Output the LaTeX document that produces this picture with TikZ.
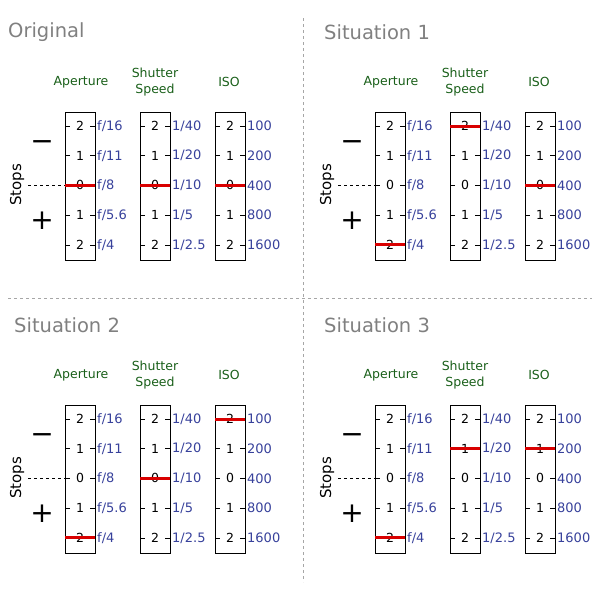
\documentclass[tikz,border=0pt]{standalone}
\usepackage{fontspec}
\setmainfont{DejaVu Sans}
\begin{document}
\definecolor{valblue}{RGB}{55,65,155}
\definecolor{hdgreen}{RGB}{25,95,25}
\definecolor{ttlgray}{RGB}{128,128,128}
\begin{tikzpicture}[x=1pt,y=-1pt,
  box/.style={draw,line width=0.8pt},
  tick/.style={line width=0.6pt},
  num/.style={font=\fontsize{12.5}{13}\selectfont,inner sep=1pt},
  val/.style={font=\fontsize{13}{14}\selectfont,text=valblue,anchor=west,inner sep=0pt},
  hdr/.style={font=\fontsize{12.5}{16}\selectfont,text=hdgreen,align=center,inner sep=0pt},
  ttl/.style={font=\fontsize{19.5}{21}\selectfont,text=ttlgray,anchor=west,inner sep=0pt},
  sel/.style={draw=red!85!black,line width=3pt},
  divider/.style={draw=gray!70,dashed,line width=0.5pt}]
\useasboundingbox (0,0) rectangle (600,600);
\draw[divider] (303,18) -- (303,582);
\draw[divider] (8,298) -- (592,298);
% \panel{dx}{dy}{title}{aprow}{shrow}{isorow}{titlex}
\newcommand{\panel}[7]{%
 \begin{scope}[shift={(#1,#2)}]
  \node[ttl] (t) at (#7,32) {#3};
  \node[hdr] (ha) at (81,82) {Aperture};
  \node[hdr] (hs) at (155,82) {Shutter\\Speed};
  \node[hdr] (hi) at (229,82) {ISO};
  \node[font=\fontsize{15}{16}\selectfont,rotate=90,inner sep=0pt] (st) at (17,185) {Stops};
  \node[font=\fontsize{28}{28}\selectfont,inner sep=0pt] (mn) at (42,146) {\textminus};
  \node[font=\fontsize{28}{28}\selectfont,inner sep=0pt] (pl) at (42,221) {+};
  \coordinate (dl) at (28,185);
  \coordinate (dr) at (65,185);
  \draw[dashed,line width=0.5pt] (dl) -- (dr);
  \foreach \bx/\r/\vals [count=\c] in {65/#4/{f/16,f/11,f/8,f/5.6,f/4},140/#5/{1/40,1/20,1/10,1/5,1/2.5},215/#6/{100,200,400,800,1600}}{
    \draw[box] (\bx,112) rectangle (\bx+30,260);
    \foreach \n [count=\i from 0] in {2,1,0,1,2}{
      \pgfmathsetmacro{\yy}{126+29.7*\i}
      \draw[tick] (\bx,\yy) -- (\bx+5,\yy);
      \draw[tick] (\bx+25,\yy) -- (\bx+30,\yy);
      \node[num] at (\bx+15,\yy) {\n};
    }
    \foreach \v [count=\i from 0] in \vals{
      \pgfmathsetmacro{\yy}{126+29.7*\i}
      \node[val] at (\bx+32,\yy) {\v};
    }
    \pgfmathsetmacro{\ys}{126+29.7*\r}
    \draw[sel] (\bx,\ys) -- (\bx+30,\ys);
  }
 \end{scope}}
\panel{0}{0}{Original}{2}{2}{2}{8}
\panel{310}{0}{Situation 1}{4}{0}{2}{14}
\panel{0}{293}{Situation 2}{4}{2}{0}{14}
\panel{310}{293}{Situation 3}{4}{1}{1}{14}
\end{tikzpicture}
\end{document}
